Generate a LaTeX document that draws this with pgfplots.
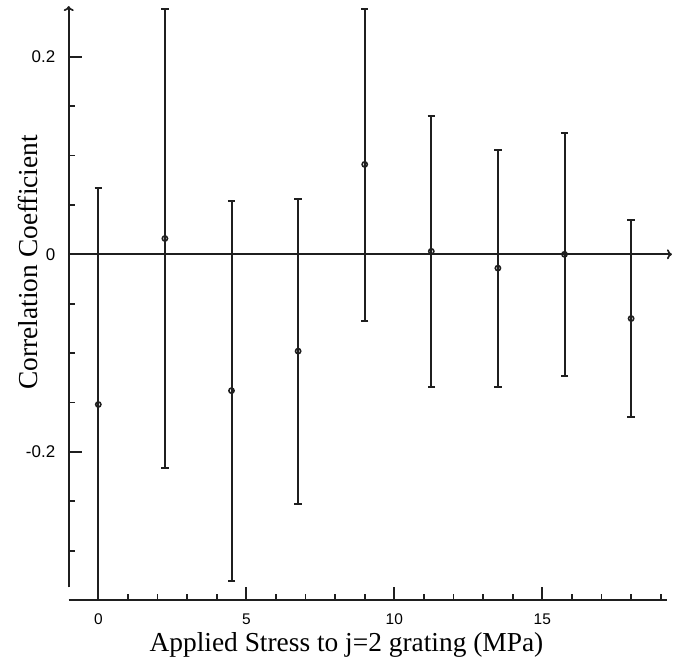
\documentclass[border=0pt]{standalone}
\usepackage{fontspec}
\setmainfont{Liberation Serif}
\newfontfamily\tickfont{Liberation Sans}
\usepackage{pgfplots}
\usepackage{pgfplotstable}
\pgfplotsset{compat=1.18}
\usetikzlibrary{arrows.meta}
\pgfplotstableread{
x y ep em
0 -0.152 0.219 0.198
2.25 0.016 0.232 0.232
4.5 -0.138 0.192 0.193
6.75 -0.098 0.154 0.155
9 0.091 0.157 0.158
11.25 0.003 0.137 0.137
13.5 -0.014 0.120 0.120
15.75 0.000 0.123 0.123
18 -0.065 0.100 0.100
}\datatable
\begin{document}
\begin{tikzpicture}
\begin{axis}[
  x=29.6bp, y=988bp,
  xmin=-1, xmax=19.2, ymin=-0.35, ymax=0.2574,
  clip=false,
  axis x line*=bottom, axis y line*=left,
  y axis line style={draw=none},
  x axis line style={line width=2bp, color=black!88},
  tick align=inside,
  major tick length=13bp, minor tick length=6.5bp,
  every tick/.style={line width=1.9bp, color=black!88},
  xtick={0,5,10,15}, xticklabels={0,5,10,15},
  minor xtick={1,2,3,4,6,7,8,9,11,12,13,14,16,17,18,19},
  ytick={-0.2,0,0.2}, yticklabels={-0.2,0,0.2},
  minor ytick={-0.3,-0.25,-0.15,-0.1,-0.05,0.05,0.1,0.15},
  xticklabel style={font=\tickfont\fontsize{15.5}{15.5}\selectfont, yshift=-10bp},
  yticklabel style={font=\tickfont\fontsize{17}{17}\selectfont, xshift=-10bp},
  xlabel={Applied Stress to j=2 grating (MPa)},
  ylabel={Correlation Coefficient},
  xlabel style={font=\fontsize{27.5}{27.5}\selectfont, at={(axis description cs:0.4646,-0.085)}, anchor=base},
  ylabel style={font=\fontsize{27.5}{27.5}\selectfont, at={(axis description cs:-0.053,0.563)}, anchor=base, rotate=0},
]
\coordinate (bl) at (axis cs:-3.321,-0.4116);
\coordinate (tr) at (axis cs:19.652,0.2574);
\draw[line width=2bp, color=black!88, -{To[length=5bp,width=10bp,line width=1.7bp]}] (axis cs:-1,-0.337) -- (axis cs:-1,0.2513);
\draw[line width=2bp, color=black!88, -{To[length=5bp,width=10bp,line width=1.7bp]}] (axis cs:-1,0) -- (axis cs:19.38,0);
\addplot[only marks, color=black!88, mark=o, mark size=2.6bp, mark options={line width=1.6bp},
  error bars/.cd, y dir=both, y explicit,
  error bar style={line width=2bp, color=black!88},
  error mark options={rotate=90, mark size=3.7bp, line width=2bp, color=black!88}]
  table[x=x, y=y, y error plus=ep, y error minus=em] {\datatable};
\end{axis}
\pgfresetboundingbox
\useasboundingbox (bl) rectangle (tr);
\end{tikzpicture}
\end{document}
